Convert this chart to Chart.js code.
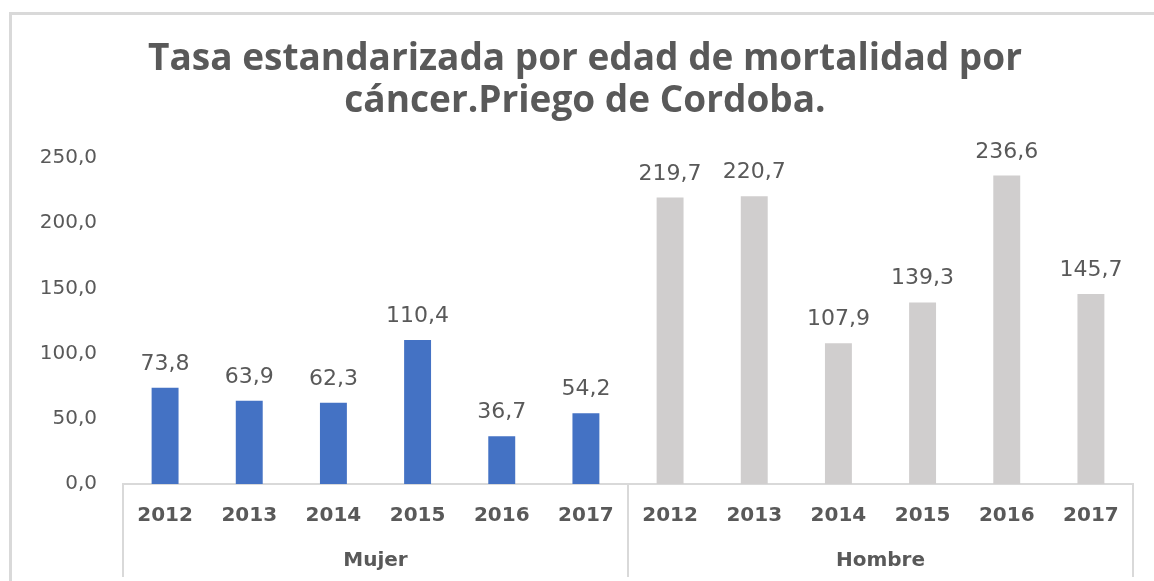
<!DOCTYPE html>
<html>
<head>
<meta charset="utf-8">
<script src="https://cdn.jsdelivr.net/npm/chart.js@4"></script>
<style>
  html, body { margin: 0; padding: 0; background: #fff; }
  #wrap { position: relative; width: 1154px; height: 581px; }
</style>
</head>
<body>
<div id="wrap"><canvas id="grafico" width="1154" height="581"></canvas></div>
<script>
const anos = ['2012', '2013', '2014', '2015', '2016', '2017'];
const grupos = ['Mujer', 'Hombre'];
const mujer = [73.8, 63.9, 62.3, 110.4, 36.7, 54.2];
const hombre = [219.7, 220.7, 107.9, 139.3, 236.6, 145.7];
const ticksY = [0, 50, 100, 150, 200, 250];

const corMujer = '#4472C4';
const corHombre = '#D0CECE';
const corTexto = '#595959';
const corLinha = '#D9D9D9';

function formata(v) {
  return v.toFixed(1).replace('.', ',');
}

// borda do quadro, rotulos das barras e caixas do eixo de categorias
const extras = {
  id: 'extras',
  beforeDraw(chart) {
    const ctx = chart.ctx;
    ctx.save();
    ctx.strokeStyle = corLinha;
    ctx.lineWidth = 3;
    ctx.beginPath();
    ctx.moveTo(10.5, chart.height);
    ctx.lineTo(10.5, 13.5);
    ctx.lineTo(chart.width, 13.5);
    ctx.stroke();
    ctx.restore();
  },
  afterDraw(chart) {
    const ctx = chart.ctx;
    const x = chart.scales.x;
    const x2 = chart.scales.x2;
    const area = chart.chartArea;
    const meio = (x.getPixelForValue(anos.length - 1) + x.getPixelForValue(anos.length)) / 2;
    ctx.save();
    ctx.strokeStyle = corLinha;
    ctx.lineWidth = 2;
    [area.left, meio, area.right].forEach(px => {
      ctx.beginPath();
      ctx.moveTo(px, area.bottom);
      ctx.lineTo(px, x2.bottom + 4);
      ctx.stroke();
    });

    ctx.fillStyle = corTexto;
    ctx.font = '22px "DejaVu Sans"';
    ctx.textAlign = 'center';
    ctx.textBaseline = 'alphabetic';
    const meta = chart.getDatasetMeta(0);
    meta.data.forEach((bar, i) => {
      const v = chart.data.datasets[0].data[i];
      ctx.fillText(formata(v), bar.x, bar.y - 18);
    });
    ctx.restore();
  }
};

const canvaGrafico = document.getElementById('grafico');

new Chart(canvaGrafico, {
  type: 'bar',
  data: {
    labels: anos.concat(anos),
    datasets: [{
      data: mujer.concat(hombre),
      backgroundColor: mujer.map(() => corMujer).concat(hombre.map(() => corHombre)),
      barPercentage: 0.32,
      categoryPercentage: 1
    }]
  },
  options: {
    responsive: false,
    animation: false,
    layout: {
      padding: { left: 37, right: 21, top: 0, bottom: 8 }
    },
    plugins: {
      legend: { display: false },
      tooltip: { enabled: false },
      title: {
        display: true,
        text: ['Tasa estandarizada por edad de mortalidad por', 'cáncer.Priego de Cordoba.'],
        color: corTexto,
        font: { family: 'Open Sans', size: 37, weight: 'bold', lineHeight: 1.15 },
        padding: { top: 38, bottom: 35 }
      }
    },
    scales: {
      y: {
        min: 0,
        max: 250,
        afterFit(scale) { scale.width = 86; },
        afterBuildTicks(scale) { scale.ticks = ticksY.map(v => ({ value: v })); },
        grid: { display: false, drawTicks: false },
        border: { display: false },
        ticks: {
          padding: 26,
          color: corTexto,
          font: { family: 'DejaVu Sans', size: 20 },
          callback: v => formata(v)
        }
      },
      x: {
        weight: 0,
        afterFit(scale) { scale.height = 44; },
        grid: { display: false, drawTicks: false },
        border: { display: true, color: corLinha, width: 2 },
        ticks: {
          padding: 20,
          color: corTexto,
          maxRotation: 0,
          autoSkip: false,
          font: { family: 'DejaVu Sans', size: 20, weight: 'bold' }
        }
      },
      x2: {
        type: 'category',
        labels: grupos,
        position: 'bottom',
        offset: true,
        weight: 1,
        afterFit(scale) { scale.height = 45; },
        grid: { display: false, drawTicks: false },
        border: { display: false },
        ticks: {
          padding: 21,
          color: corTexto,
          maxRotation: 0,
          font: { family: 'DejaVu Sans', size: 20, weight: 'bold' }
        }
      }
    }
  },
  plugins: [extras]
});
</script>
</body>
</html>
